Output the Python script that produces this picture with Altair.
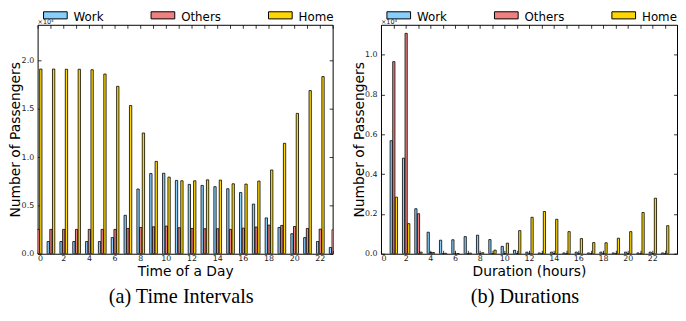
import altair as alt
import pandas as pd

# ---------------- data (values in units of 10^4 passengers) ----------------
series = ["Work", "Others", "Home"]
palette = ["#87CEFA", "#F08080", "#FFD700"]

hours_a = list(range(24))
work_a = [0.125, 0.126, 0.126, 0.126, 0.126, 0.126, 0.167, 0.398, 0.670, 0.830,
          0.833, 0.759, 0.718, 0.707, 0.694, 0.673, 0.633, 0.514, 0.371, 0.272,
          0.207, 0.167, 0.126, 0.065]
others_a = [0.252, 0.252, 0.252, 0.252, 0.252, 0.252, 0.252, 0.262, 0.272, 0.279,
            0.286, 0.269, 0.262, 0.259, 0.259, 0.252, 0.265, 0.276, 0.296, 0.293,
            0.282, 0.262, 0.255, 0.250]
home_a = [1.912, 1.912, 1.910, 1.910, 1.905, 1.860, 1.733, 1.534, 1.250, 0.956,
          0.793, 0.755, 0.755, 0.765, 0.762, 0.724, 0.721, 0.752, 0.867, 1.143,
          1.453, 1.689, 1.834, 1.880]

hours_b = list(range(1, 24))
work_b = [0.568, 0.480, 0.226, 0.108, 0.068, 0.070, 0.086, 0.093, 0.071, 0.037,
          0.017, 0.008, 0.004, 0.008, 0.004, 0.008, 0.004, 0.008, 0.004, 0.008,
          0.004, 0.008, 0.004]
others_b = [0.965, 1.107, 0.201, 0.006, 0.0, 0.0, 0.0, 0.0, 0.0, 0.0,
            0.0, 0.0, 0.0, 0.0, 0.0, 0.0, 0.0, 0.0, 0.0, 0.0,
            0.0, 0.0, 0.0]
home_b = [0.284, 0.151, 0.008, 0.006, 0.002, 0.001, 0.003, 0.005, 0.018, 0.053,
          0.116, 0.183, 0.212, 0.173, 0.111, 0.076, 0.056, 0.055, 0.078, 0.111,
          0.207, 0.279, 0.141]

xlabels_a = list(range(0, 24, 2))
xlabels_b = list(range(0, 25, 2))
yticks_a = [0.0, 0.5, 1.0, 1.5, 2.0]
yticks_b = [0.0, 0.2, 0.4, 0.6, 0.8, 1.0]
mult_label = ["×10⁴"]


def long_table(hours, work, others, home):
    return pd.DataFrame({
        "hour": hours * 3,
        "series": [s for s in series for _ in hours],
        "value": work + others + home,
    })


H = 232
FONT = "DejaVu Sans"


def panel(df, width, x_dom, x_labels, x_ticks, y_dom, y_vals, x_title, caption):
    xs = alt.Scale(domain=x_dom, nice=False, zero=False)
    ys = alt.Scale(domain=y_dom, nice=False)

    bars = alt.Chart(df).transform_calculate(
        x0="datum.hour + (datum.series === 'Work' ? -0.26 : (datum.series === 'Others' ? -0.05 : 0.16))",
        base="0",
    ).transform_calculate(
        x1="datum.x0 + 0.18"
    ).mark_bar(stroke="black", strokeWidth=0.8, clip=True).encode(
        x=alt.X("x0:Q", scale=xs,
                axis=alt.Axis(orient="bottom", values=x_labels, format="d",
                              labelExpr="datum.value == 24 ? '' : datum.label",
                              ticks=False, tickSize=0, domain=False, grid=False,
                              labelPadding=1, title=x_title, titleY=11,
                              titleBaseline="top")),
        x2="x1:Q",
        y=alt.Y("value:Q", scale=ys,
                axis=alt.Axis(orient="left", values=y_vals, format=".1f",
                              ticks=False, tickSize=0, domain=False, grid=False,
                              labelPadding=4, title="Number of Passengers",
                              titleX=-29, titleBaseline="top")),
        y2="base:Q",
        color=alt.Color("series:N", scale=alt.Scale(domain=series, range=palette),
                        legend=alt.Legend(
                            orient="none", legendX=6, legendY=-14,
                            direction="horizontal", columns=3, gridAlign="each",
                            columnPadding=46, title=None, padding=0,
                            symbolType="M-3,-1.3H3V0.5H-3Z", symbolSize=64,
                            symbolOffset=6, symbolStrokeColor="black",
                            symbolStrokeWidth=1, symbolOpacity=1,
                            labelOffset=12.5, labelFont=FONT, labelFontSize=12,
                            labelColor="black")),
    )

    # inward ticks on bottom and left edges
    ticks_bl = alt.Chart(df).mark_point(opacity=0, clip=True).encode(
        x=alt.X("hour:Q", scale=xs,
                axis=alt.Axis(orient="top", offset=-H, values=x_ticks, labels=False,
                              domain=False, grid=False, ticks=True, tickSize=3.5,
                              title=None)),
        y=alt.Y("value:Q", scale=ys,
                axis=alt.Axis(orient="right", offset=-width, values=y_vals,
                              labels=False, domain=False, grid=False, ticks=True,
                              tickSize=3.5, title=None)),
    )
    # inward ticks on top and right edges
    ticks_tr = alt.Chart(df).mark_point(opacity=0, clip=True).encode(
        x=alt.X("hour:Q", scale=xs,
                axis=alt.Axis(orient="bottom", offset=-H, values=x_ticks, labels=False,
                              domain=False, grid=False, ticks=True, tickSize=3.5,
                              title=None)),
        y=alt.Y("value:Q", scale=ys,
                axis=alt.Axis(orient="left", offset=-width, values=y_vals,
                              labels=False, domain=False, grid=False, ticks=True,
                              tickSize=3.5, title=None)),
    )

    mult = alt.Chart(pd.DataFrame({"t": mult_label})).mark_text(
        align="left", baseline="alphabetic", font=FONT, fontSize=6.5, color="#222"
    ).encode(x=alt.value(0), y=alt.value(-1), text="t:N")

    return alt.layer(bars, ticks_bl, ticks_tr, mult).resolve_axis(
        x="independent", y="independent"
    ).properties(
        width=width, height=H,
        title=alt.TitleParams(text=caption, orient="bottom", frame="group",
                              anchor="middle", font="Liberation Serif",
                              fontSize=20.5, fontWeight="normal", color="black",
                              baseline="alphabetic", offset=25, dx=-4),
    )


pa = panel(long_table(hours_a, work_a, others_a, home_a), 299, [0, 23], xlabels_a,
           list(range(0, 24)), [0, 2.37], yticks_a, "Time of a Day",
           "(a) Time Intervals")
pb = panel(long_table(hours_b, work_b, others_b, home_b), 300, [0, 24], xlabels_b,
           list(range(0, 25)), [0, 1.15], yticks_b, "Duration (hours)",
           "(b) Durations")

chart = alt.hconcat(pa, pb, spacing=49, bounds="flush", padding=0).resolve_legend(
    color="independent"
).configure_view(
    stroke="black", strokeWidth=1
).configure_axis(
    labelFont=FONT, labelFontSize=8, labelColor="#222",
    titleFont=FONT, titleFontSize=14, titleFontWeight="normal", titleColor="black",
    tickColor="black", tickWidth=0.8, minExtent=0, grid=False
)

chart.save("out.html", embed_options={"renderer": "svg", "actions": False})
